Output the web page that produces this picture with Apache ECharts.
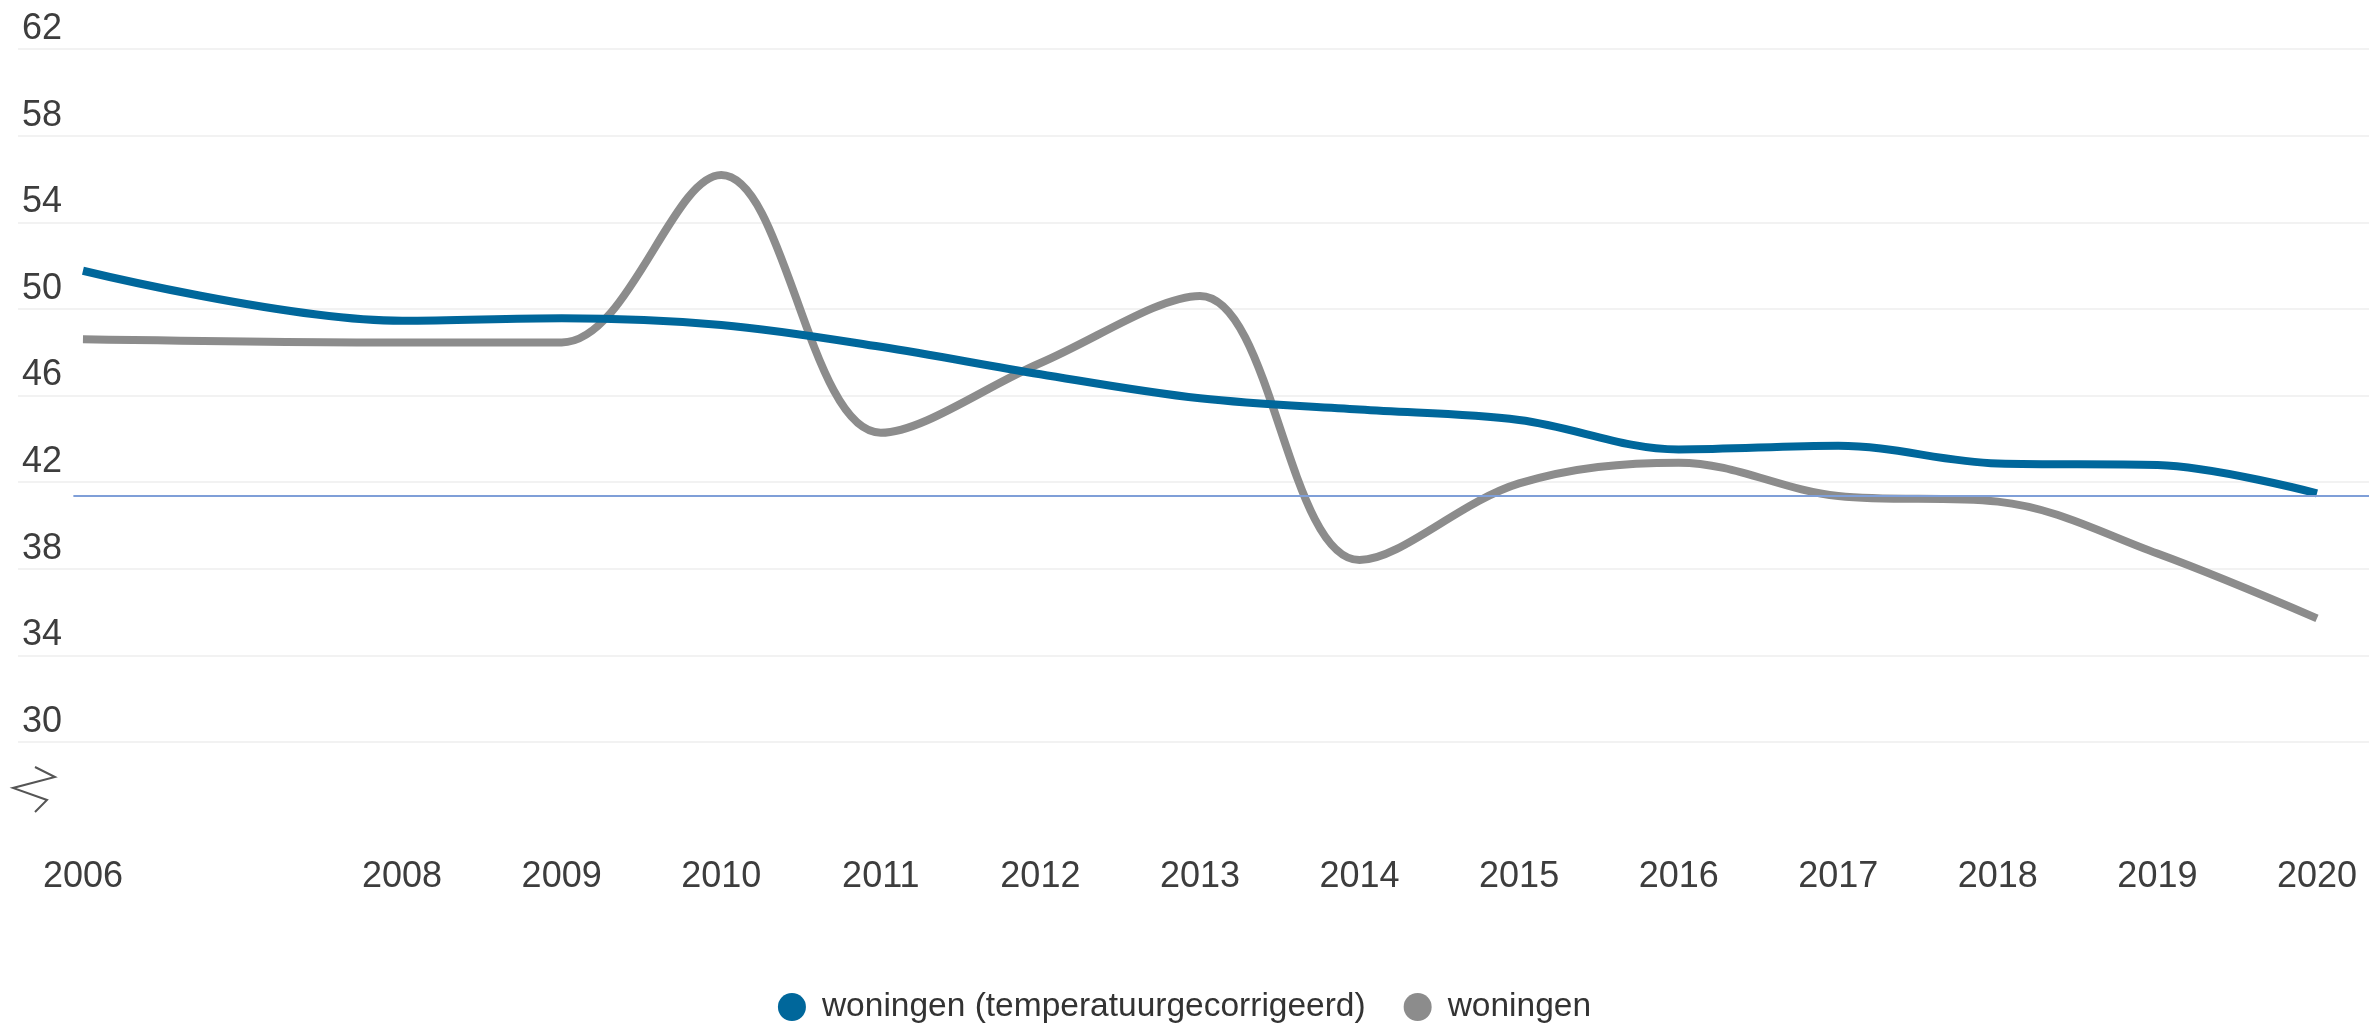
<!DOCTYPE html>
<html>
<head>
<meta charset="utf-8">
<script src="https://cdn.jsdelivr.net/npm/echarts@6/dist/echarts.min.js"></script>
<style>
  html, body { margin: 0; padding: 0; background: #fff; }
  #chart { width: 2369px; height: 1030px; }
</style>
</head>
<body>
<div id="chart"></div>
<script>
const years = [2006, 2008, 2009, 2010, 2011, 2012, 2013, 2014, 2015, 2016, 2017, 2018, 2019, 2020];
const corrected = [51.76, 49.45, 49.57, 49.26, 48.25, 46.98, 45.87, 45.35, 44.87, 43.51, 43.68, 42.86, 42.79, 41.48];
const actual = [48.6, 48.45, 48.45, 56.18, 44.28, 47.5, 50.6, 38.4, 41.94, 42.9, 41.36, 41.1, 38.7, 35.71];
const refLevel = 41.37;
const seriesNames = ["woningen (temperatuurgecorrigeerd)", "woningen"];

const chart = echarts.init(document.getElementById("chart"));

// x range chosen so 2006 and 2020 sit where they do in the original
const xMin = 2005.593;
const xMax = 2020.326;
const ellipse = "path://M0,-1A1,1 0 1,1 0,1A1,1 0 1,1 0,-1Z";

const option = {
  backgroundColor: "#ffffff",
  animation: false,
  textStyle: { fontFamily: "Liberation Sans, Arial, sans-serif" },
  grid: { left: 18, right: 0, top: 49, bottom: 288, outerBoundsMode: "none" },
  legend: {
    top: 985,
    left: "center",
    icon: ellipse,
    itemWidth: 28,
    itemHeight: 34,
    itemGap: 38,
    textStyle: { fontSize: 33.5, color: "#333333", padding: [0, 0, 0, 11] },
    data: seriesNames
  },
  xAxis: {
    type: "value",
    min: xMin,
    max: xMax,
    axisLine: { show: false },
    axisTick: { show: false },
    splitLine: { show: false },
    axisLabel: {
      customValues: years,
      fontSize: 36,
      color: "#3d3d3d",
      margin: 135,
      verticalAlign: "middle",
      formatter: (v) => String(v)
    }
  },
  yAxis: {
    type: "value",
    min: 30,
    max: 62,
    interval: 4,
    axisLine: { show: false },
    axisTick: { show: false },
    splitLine: { lineStyle: { color: "#f2f2f2", width: 2 } },
    axisLabel: {
      inside: true,
      margin: 4,
      fontSize: 36,
      color: "#3d3d3d",
      verticalAlign: "bottom",
      lineHeight: 40
    }
  },
  graphic: [
    {
      // axis break mark below the lowest tick
      type: "polyline",
      shape: { points: [[35, 767], [55, 777], [13, 788], [47, 800], [35, 812]] },
      style: { stroke: "#555555", lineWidth: 2, fill: null }
    }
  ],
  series: [
    {
      name: seriesNames[0],
      type: "line",
      data: years.map((y, i) => [y, corrected[i]]),
      smooth: 0.35,
      showSymbol: false,
      color: "#00679b",
      lineStyle: { width: 8, color: "#00679b" },
      z: 3,
      markLine: {
        silent: true,
        symbol: "none",
        label: { show: false },
        lineStyle: { color: "#7f9fd8", width: 2, type: "solid" },
        data: [[{ coord: [2005.94, refLevel] }, { coord: [xMax, refLevel] }]]
      }
    },
    {
      name: seriesNames[1],
      type: "line",
      data: years.map((y, i) => [y, actual[i]]),
      smooth: 0.35,
      showSymbol: false,
      color: "#8c8c8c",
      lineStyle: { width: 8, color: "#8c8c8c" },
      z: 2
    }
  ]
};

chart.setOption(option);
</script>
</body>
</html>
